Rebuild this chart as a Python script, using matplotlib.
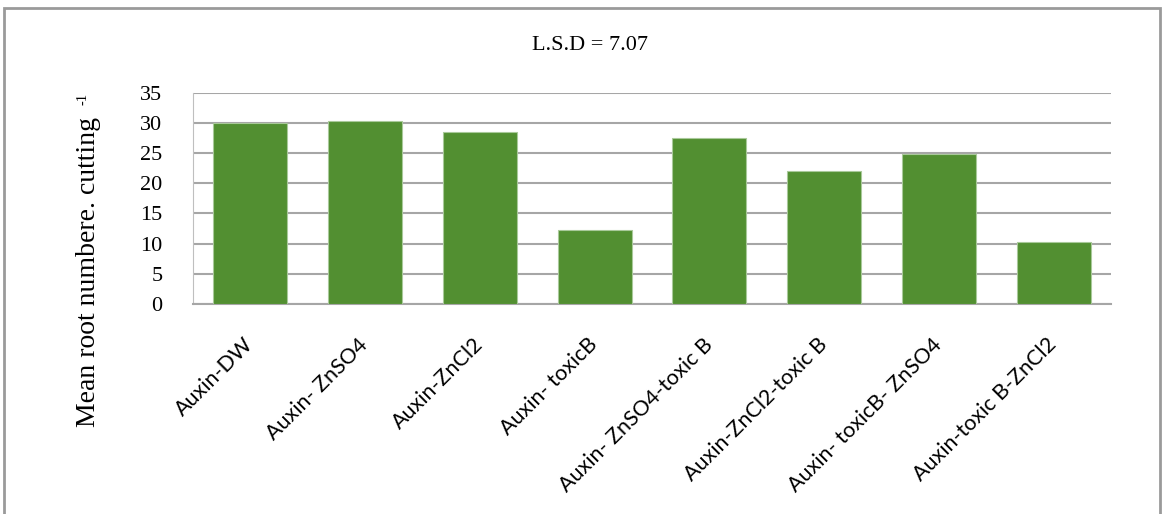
import matplotlib.pyplot as plt
from matplotlib.patches import Rectangle

treatments = ['Auxin-DW', 'Auxin- ZnSO4', 'Auxin-ZnCl2', 'Auxin- toxicB',
              'Auxin- ZnSO4-toxic B', 'Auxin-ZnCl2-toxic B',
              'Auxin- toxicB- ZnSO4', 'Auxin-toxic B-ZnCl2']
root_number = [30.0, 30.25, 28.4, 12.2, 27.4, 22.0, 24.8, 10.2]
y_ticks = [0, 5, 10, 15, 20, 25, 30, 35]
lsd_text = 'L.S.D = 7.07'

serif = 'Liberation Serif'
sans = 'Lato'

fig = plt.figure(figsize=(11.62, 5.14), dpi=100)
ax = fig.add_axes([193 / 1162, 1 - 304 / 514, (1111 - 193) / 1162, (304 - 92.5) / 514])

x = range(len(treatments))
ax.bar(x, root_number, width=0.645, color='#528f31', edgecolor='#a9c99a',
       linewidth=0.8, zorder=3)

ax.set_xlim(-0.5, len(treatments) - 0.5)
ax.set_ylim(0, 35)
ax.set_yticks(y_ticks)
ax.set_yticklabels([str(v) for v in y_ticks], fontfamily=serif, fontsize=16)
ax.yaxis.grid(True, color='#a6a6a6', linewidth=1.5, zorder=0)
ax.tick_params(axis='y', length=0, pad=22)
ax.tick_params(axis='x', length=0)

ax.set_xticks(list(x))
ax.set_xticklabels(treatments, rotation=45, ha='right', va='center',
                   rotation_mode='anchor', fontfamily=sans, fontsize=15.5)
for lbl in ax.get_xticklabels():
    lbl.set_y(-0.155)

for side in ['top', 'right']:
    ax.spines[side].set_visible(False)
ax.spines['left'].set_color('#bfbfbf')
ax.spines['bottom'].set_color('#a6a6a6')
ax.spines['bottom'].set_linewidth(1.5)

# y label with a small raised "-1"
fig.text(89 / 1162, 1 - 272 / 514, 'Mean root numbere. cutting',
         rotation=90, ha='center', va='center', fontfamily=serif, fontsize=20)
fig.text(83 / 1162, 1 - 99 / 514, '-1', rotation=90, ha='center',
         va='center', fontfamily=serif, fontsize=10.5)
fig.text(590 / 1162, 1 - 45 / 514, lsd_text, ha='center', va='center',
         fontfamily=serif, fontsize=16)

# outer frame
fig.patches.append(Rectangle((4 / 1162, -0.02), 1156 / 1162, 1.02 - 8 / 514,
                             transform=fig.transFigure, fill=False,
                             edgecolor='#9a9a9a', linewidth=2))

fig.savefig('out.png', dpi=100)
